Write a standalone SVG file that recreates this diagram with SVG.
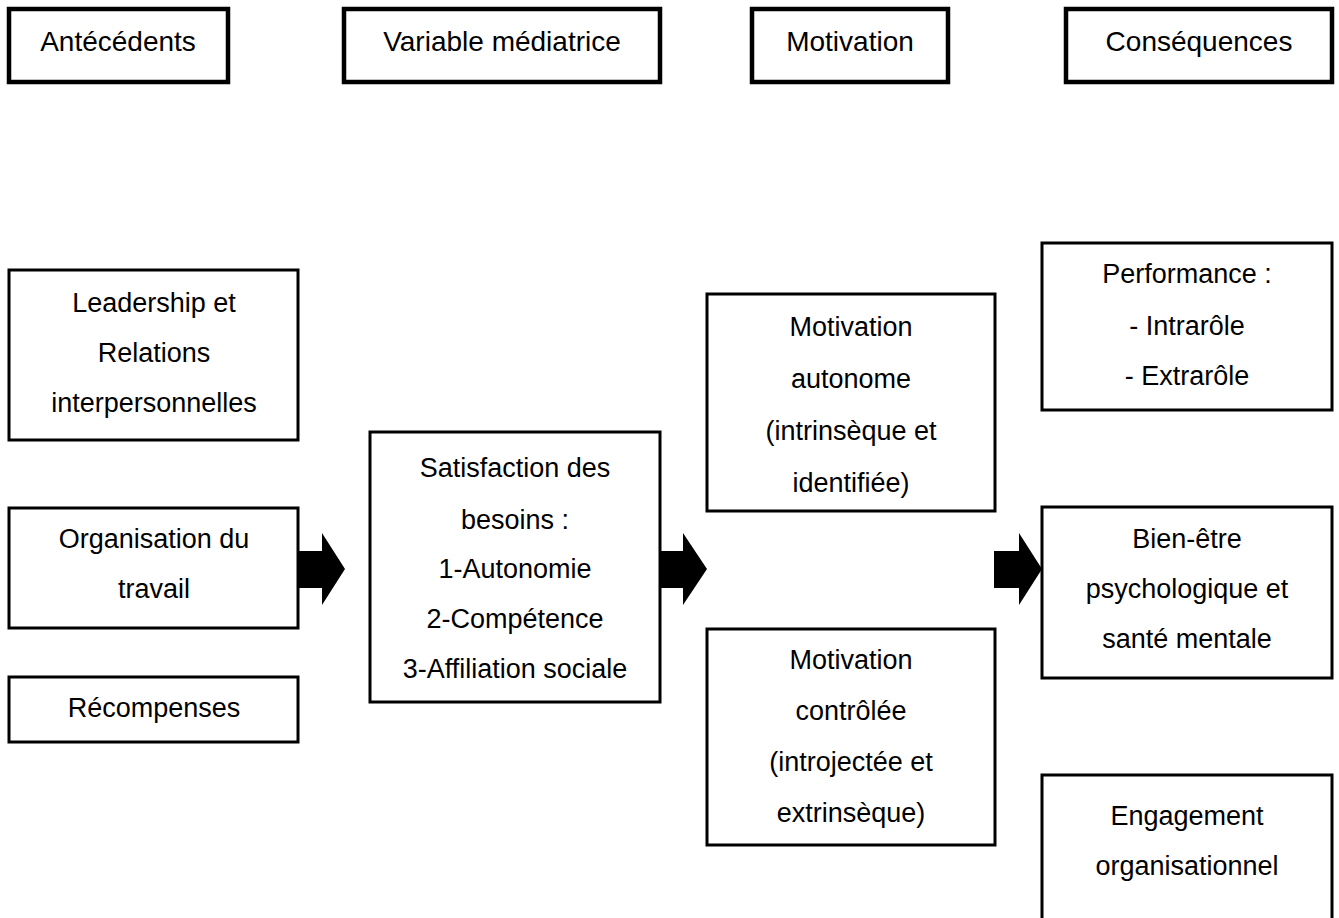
<svg xmlns="http://www.w3.org/2000/svg" width="1339" height="918" viewBox="0 0 1339 918">
<style>
.box{fill:#fff;stroke:#000;stroke-width:3}
.hdr{fill:#fff;stroke:#000;stroke-width:4.5}
.t{font-family:"Liberation Sans",Arial,sans-serif;font-size:27px;fill:#000;text-anchor:middle}
.h{font-size:28px}
.arr{fill:#000}
</style>
<rect width="1339" height="918" fill="#fff"/>
<g id="hdr-antecedents"><rect class="hdr" x="9" y="9" width="219" height="73"/><text class="t h" x="118" y="51">Antécédents</text></g>
<g id="hdr-variable"><rect class="hdr" x="344" y="9" width="316" height="73"/><text class="t h" x="502" y="51">Variable médiatrice</text></g>
<g id="hdr-motivation"><rect class="hdr" x="752" y="9" width="196" height="73"/><text class="t h" x="850" y="51">Motivation</text></g>
<g id="hdr-consequences"><rect class="hdr" x="1066" y="9" width="266" height="73"/><text class="t h" x="1199" y="51">Conséquences</text></g>

<g id="leadership"><rect class="box" x="9" y="270" width="289" height="170"/>
<text class="t" x="154" y="312">Leadership et</text><text class="t" x="154" y="362">Relations</text><text class="t" x="154" y="412">interpersonnelles</text></g>
<g id="organisation"><rect class="box" x="9" y="508" width="289" height="120"/>
<text class="t" x="154" y="548">Organisation du</text><text class="t" x="154" y="598">travail</text></g>
<g id="recompenses"><rect class="box" x="9" y="677" width="289" height="65"/>
<text class="t" x="154" y="717">Récompenses</text></g>

<g id="satisfaction"><rect class="box" x="370" y="432" width="290" height="270"/>
<text class="t" x="515" y="477">Satisfaction des</text><text class="t" x="515" y="529">besoins :</text><text class="t" x="515" y="578">1-Autonomie</text><text class="t" x="515" y="628">2-Compétence</text><text class="t" x="515" y="678">3-Affiliation sociale</text></g>

<g id="mot-autonome"><rect class="box" x="707" y="294" width="288" height="217"/>
<text class="t" x="851" y="336">Motivation</text><text class="t" x="851" y="388">autonome</text><text class="t" x="851" y="440">(intrinsèque et</text><text class="t" x="851" y="492">identifiée)</text></g>
<g id="mot-controlee"><rect class="box" x="707" y="629" width="288" height="216"/>
<text class="t" x="851" y="669">Motivation</text><text class="t" x="851" y="720">contrôlée</text><text class="t" x="851" y="771">(introjectée et</text><text class="t" x="851" y="822">extrinsèque)</text></g>

<g id="performance"><rect class="box" x="1042" y="243" width="290" height="167"/>
<text class="t" x="1187" y="283">Performance :</text><text class="t" x="1187" y="335">- Intrarôle</text><text class="t" x="1187" y="385">- Extrarôle</text></g>
<g id="bien-etre"><rect class="box" x="1042" y="507" width="290" height="171"/>
<text class="t" x="1187" y="548">Bien-être</text><text class="t" x="1187" y="598">psychologique et</text><text class="t" x="1187" y="648">santé mentale</text></g>
<g id="engagement"><rect class="box" x="1042" y="775" width="290" height="160"/>
<text class="t" x="1187" y="825">Engagement</text><text class="t" x="1187" y="875">organisationnel</text></g>

<g id="connectors">
<polygon class="arr" points="298,551 322,551 322,533 345,569 322,605 322,588 298,588"/>
<polygon class="arr" points="660,551 683,551 683,533 707,569 683,605 683,588 660,588"/>
<polygon class="arr" points="994,551 1019,551 1019,533 1042,569 1019,605 1019,588 994,588"/>
</g>
</svg>
